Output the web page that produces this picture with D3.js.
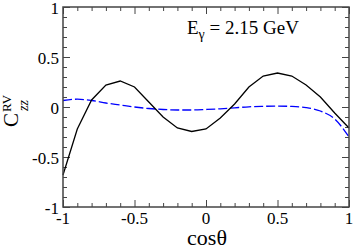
<!DOCTYPE html>
<html>
<head>
<meta charset="utf-8">
<script src="https://cdn.jsdelivr.net/npm/d3@7"></script>
<style>
  body { margin: 0; background: #fff; }
</style>
</head>
<body>
<svg id="chart" width="354" height="248"></svg>
<script>
'use strict';

// cos(theta) grid, step 0.1
var cosTheta = [-1, -0.9, -0.8, -0.7, -0.6, -0.5, -0.4, -0.3, -0.2, -0.1, 0,
    0.1, 0.2, 0.3, 0.4, 0.5, 0.6, 0.7, 0.8, 0.9, 1];

// solid black curve
var czzSolid = [-0.68, -0.22, 0.07, 0.22, 0.26, 0.20, 0.05, -0.10, -0.21, -0.245, -0.22,
    -0.11, 0.03, 0.20, 0.31, 0.34, 0.31, 0.22, 0.10, -0.06, -0.21];

// dashed blue curve
var czzDashed = [0.065, 0.078, 0.065, 0.04, 0.02, 0.0, -0.015, -0.025, -0.03, -0.03, -0.025,
    -0.018, -0.008, 0.002, 0.007, 0.009, 0.006, -0.006, -0.04, -0.12, -0.30];

var xMajor = [-1, -0.5, 0, 0.5, 1];
var xMajorLabels = ['-1', '-0.5', '0', '0.5', '1'];
var yMajor = [-1, -0.5, 0, 0.5, 1];
var yMajorLabels = ['-1', '-0.5', '0', '0.5', '1'];

var FONT = '"Liberation Serif", "Times New Roman", "DejaVu Serif", serif';

var margin = {l: 63, t: 7, r: 5, b: 41};
var width = 354, height = 248;

var svg = d3.select('#chart').attr('font-family', FONT);

var x = d3.scaleLinear().domain([-1, 1]).range([margin.l, width - margin.r]);
var y = d3.scaleLinear().domain([-1, 1]).range([height - margin.b, margin.t]);

var minor = d3.range(-10, 11).map(function(i) { return i / 10; })
    .filter(function(v) { return Math.abs(v * 2 - Math.round(v * 2)) > 1e-6; });

var frameColor = '#444';

// inner ticks on all four sides
function drawTicks(axisFn, scale, transform, vals, size) {
    var g = svg.append('g')
        .attr('transform', transform)
        .call(axisFn(scale).tickValues(vals).tickSize(size).tickFormat(''));
    g.select('.domain').remove();
    g.selectAll('line').attr('stroke', frameColor).attr('stroke-width', 1);
    return g;
}

var x0 = margin.l, x1 = width - margin.r, y0 = height - margin.b, y1 = margin.t;

drawTicks(d3.axisTop, x, 'translate(0,' + y0 + ')', xMajor, 7);
drawTicks(d3.axisTop, x, 'translate(0,' + y0 + ')', minor, 4);
drawTicks(d3.axisBottom, x, 'translate(0,' + y1 + ')', xMajor, 7);
drawTicks(d3.axisBottom, x, 'translate(0,' + y1 + ')', minor, 4);
drawTicks(d3.axisRight, y, 'translate(' + x0 + ',0)', yMajor, 7);
drawTicks(d3.axisRight, y, 'translate(' + x0 + ',0)', minor, 4);
drawTicks(d3.axisLeft, y, 'translate(' + x1 + ',0)', yMajor, 7);
drawTicks(d3.axisLeft, y, 'translate(' + x1 + ',0)', minor, 4);

// curves
var solidLine = d3.line()
    .x(function(d, i) { return x(cosTheta[i]); })
    .y(function(d) { return y(d); });

var dashedLine = d3.line()
    .x(function(d, i) { return x(cosTheta[i]); })
    .y(function(d) { return y(d); })
    .curve(d3.curveMonotoneX);

svg.append('path')
    .datum(czzDashed)
    .attr('d', dashedLine)
    .attr('fill', 'none')
    .attr('stroke', '#0000ff')
    .attr('stroke-width', 1.3)
    .attr('stroke-dasharray', '9,3');

svg.append('path')
    .datum(czzSolid)
    .attr('d', solidLine)
    .attr('fill', 'none')
    .attr('stroke', '#000')
    .attr('stroke-width', 1.3);

// frame
svg.append('rect')
    .attr('x', x0).attr('y', y1)
    .attr('width', x1 - x0).attr('height', y0 - y1)
    .attr('fill', 'none')
    .attr('stroke', frameColor)
    .attr('stroke-width', 1.5);

// tick labels
svg.selectAll('.xlab').data(xMajor).enter().append('text')
    .attr('class', 'xlab')
    .attr('font-family', FONT)
    .attr('x', function(d) { return x(d); })
    .attr('y', 224)
    .attr('text-anchor', 'middle')
    .attr('font-size', 17)
    .text(function(d, i) { return xMajorLabels[i]; });

svg.selectAll('.ylab').data(yMajor).enter().append('text')
    .attr('class', 'ylab')
    .attr('font-family', FONT)
    .attr('x', 59)
    .attr('y', function(d) { return y(d) + 7; })
    .attr('text-anchor', 'end')
    .attr('font-size', 17)
    .text(function(d, i) { return yMajorLabels[i]; });

// x axis title
svg.append('text')
    .attr('font-family', FONT)
    .attr('x', 207)
    .attr('y', 245)
    .attr('text-anchor', 'middle')
    .attr('font-size', 22)
    .text('cosθ');

// y axis title, C^RV_zz
var yt = svg.append('g').attr('transform', 'translate(18,110) rotate(-90)')
    .attr('font-family', FONT);
yt.append('text').attr('x', -17).attr('y', 0).attr('font-size', 21).text('C');
yt.append('text').attr('x', -2).attr('y', -7).attr('font-size', 13).text('RV');
yt.append('text').attr('x', -1).attr('y', 10).attr('font-size', 14)
    .attr('font-style', 'italic').text('zz');

// energy label
var lab = svg.append('text').attr('font-family', FONT)
    .attr('x', 187).attr('y', 34).attr('font-size', 19);
lab.append('tspan').text('E');
lab.append('tspan').attr('font-size', 14).attr('dy', 5).text('γ');
lab.append('tspan').attr('dy', -5).text(' = 2.15 GeV');
</script>
</body>
</html>
